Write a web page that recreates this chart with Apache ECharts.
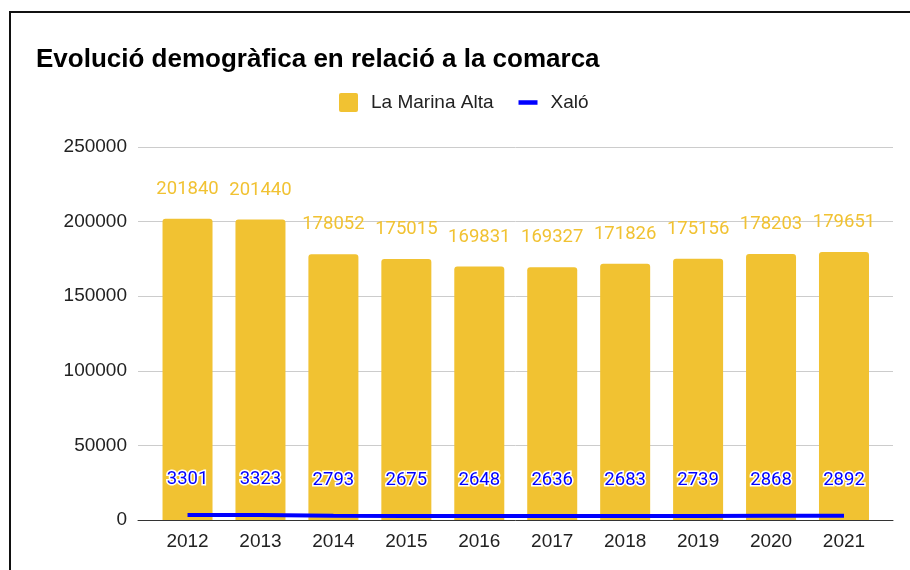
<!DOCTYPE html>
<html>
<head>
<meta charset="utf-8">
<script src="https://cdn.jsdelivr.net/npm/echarts@6/dist/echarts.min.js"></script>
<style>
  body { margin: 0; background: #fff; }
  #wrap { position: relative; width: 910px; height: 570px; overflow: hidden; }
  #chart { width: 910px; height: 570px; }
  #frame { position: absolute; left: 9px; top: 11px; width: 1000px; height: 1000px;
           border-left: 2px solid #111; border-top: 2px solid #111; pointer-events: none; }
</style>
</head>
<body>
<div id="wrap">
  <div id="chart"></div>
  <div id="frame"></div>
</div>
<script>
// dades
let anys = [2012, 2013, 2014, 2015, 2016, 2017, 2018, 2019, 2020, 2021];
let marinaAlta = [201840, 201440, 178052, 175015, 169831, 169327, 171826, 175156, 178203, 179651];
let xalo = [3301, 3323, 2793, 2675, 2648, 2636, 2683, 2739, 2868, 2892];
let yTicks = [0, 50000, 100000, 150000, 200000, 250000];

let myChart = echarts.init(document.getElementById('chart'));

let option = {
    animation: false,
    title: {
        text: 'Evolució demogràfica en relació a la comarca',
        left: 31,
        top: 42,
        textStyle: {
            fontFamily: 'Liberation Sans, Arial',
            fontWeight: 'bold',
            fontSize: 26,
            color: '#000'
        }
    },
    legend: {
        left: 334,
        top: 88,
        itemWidth: 19,
        itemHeight: 19,
        itemGap: 25,
        textStyle: {
            fontFamily: 'Liberation Sans, Arial',
            fontSize: 19,
            color: '#222',
            padding: [0, 0, 0, 8]
        },
        data: [
            { name: 'La Marina Alta', icon: 'path://M2,0 H17 Q19,0 19,2 V17 Q19,19 17,19 H2 Q0,19 0,17 V2 Q0,0 2,0 Z' },
            { name: 'Xaló', icon: 'path://M0,0 H21 V5 H0 Z' }
        ]
    },
    grid: {
        left: 138,
        right: 17,
        top: 147,
        bottom: 50,
        containLabel: false
    },
    xAxis: {
        type: 'value',
        min: 2011.321,
        max: 2021.672,
        splitLine: { show: false },
        axisTick: { show: false },
        axisLine: { show: true, onZero: false, lineStyle: { color: '#333', width: 1 } },
        axisLabel: {
            customValues: anys,
            formatter: function (v) { return String(v); },
            fontFamily: 'Liberation Sans, Arial',
            fontSize: 19,
            color: '#222',
            margin: 12
        }
    },
    yAxis: {
        type: 'value',
        min: 0,
        max: 250000,
        interval: 50000,
        axisLine: { show: false },
        axisTick: { show: false },
        splitLine: { lineStyle: { color: '#cccccc', width: 1 } },
        axisLabel: {
            customValues: yTicks,
            formatter: function (v) { return String(v); },
            fontFamily: 'Liberation Sans, Arial',
            fontSize: 19,
            color: '#222',
            margin: 11
        }
    },
    series: [
        {
            name: 'La Marina Alta',
            type: 'bar',
            barWidth: 50,
            data: anys.map(function (a, i) { return [a, marinaAlta[i]]; }),
            itemStyle: {
                color: '#f1c232',
                borderRadius: [3, 3, 0, 0]
            },
            label: {
                show: true,
                position: 'top',
                distance: 20,
                fontFamily: 'Roboto',
                fontSize: 18.5,
                color: '#f1c232',
                formatter: function (p) { return p.value[1]; }
            }
        },
        {
            name: 'Xaló',
            type: 'line',
            data: anys.map(function (a, i) { return [a, xalo[i]]; }),
            symbol: 'circle',
            symbolSize: 0,
            showSymbol: true,
            lineStyle: { color: '#0000ff', width: 4 },
            itemStyle: { color: '#0000ff' },
            label: {
                show: true,
                position: 'top',
                distance: 26,
                fontFamily: 'Roboto',
                fontSize: 18.5,
                color: '#0000ff',
                textBorderColor: '#fff',
                textBorderWidth: 3,
                formatter: function (p) { return p.value[1]; }
            }
        }
    ]
};

myChart.setOption(option);

window.addEventListener('resize', function () {
    myChart.resize();
});
</script>
</body>
</html>
